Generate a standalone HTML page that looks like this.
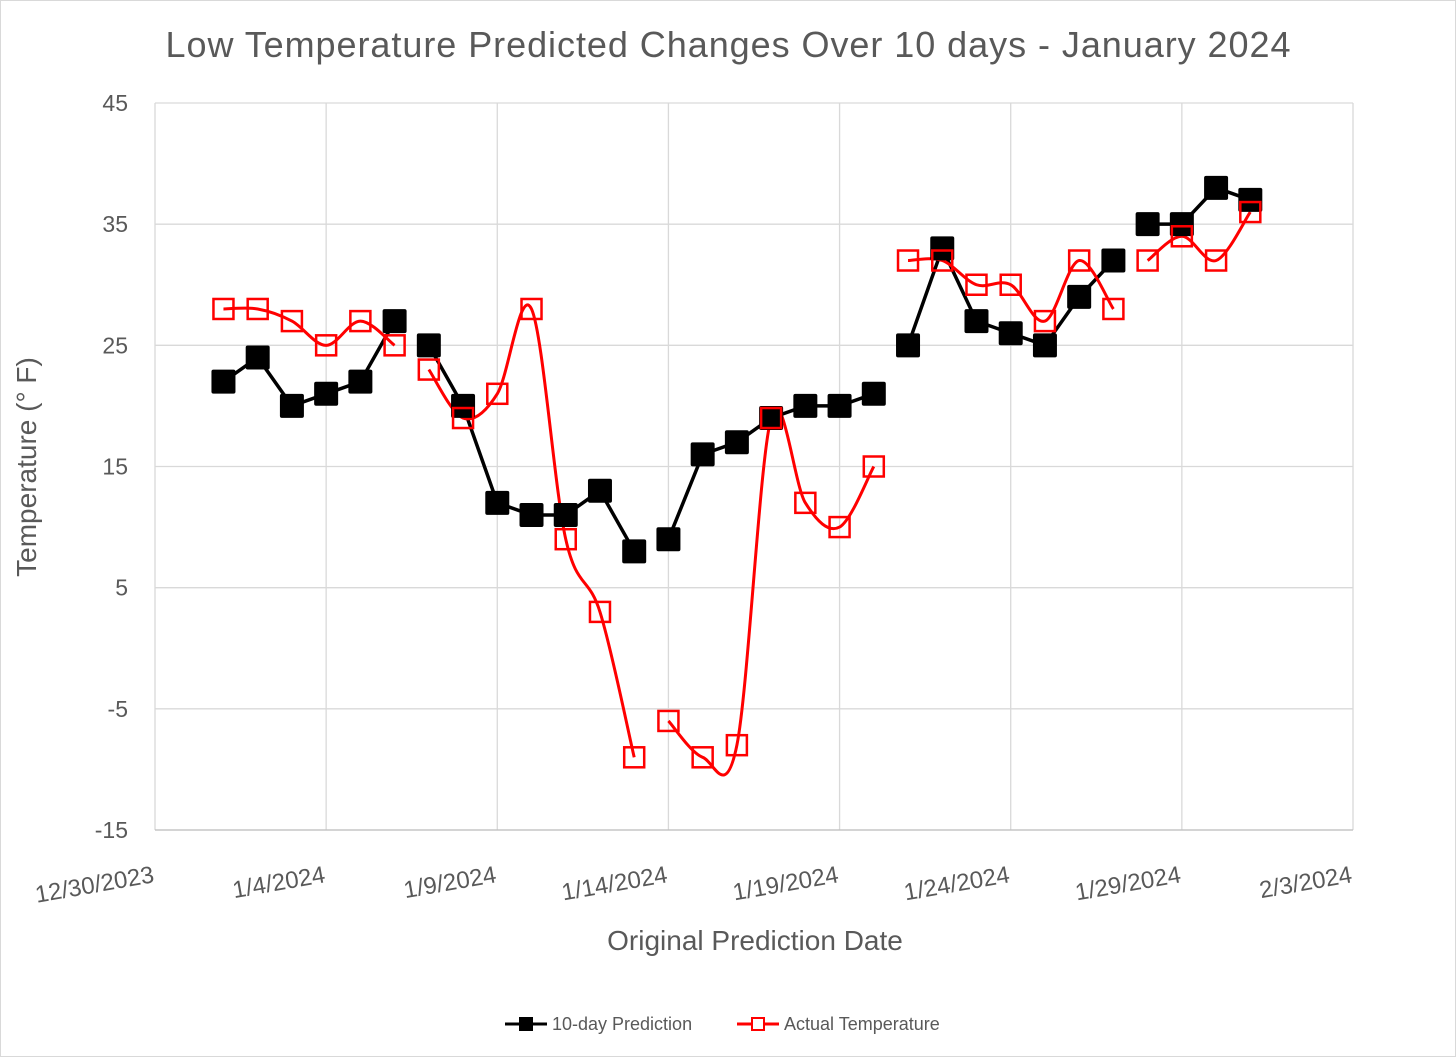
<!DOCTYPE html>
<html><head><meta charset="utf-8"><style>
body{margin:0;background:#fff}
svg text{font-family:"Liberation Sans",Carlito,sans-serif;fill:#595959}
</style></head><body>
<svg width="1456" height="1057" viewBox="0 0 1456 1057">
<rect x="0.5" y="0.5" width="1455" height="1056" fill="#fff" stroke="#d9d9d9"/>
<text x="728" y="57" font-size="36" text-anchor="middle" textLength="1125">Low Temperature Predicted Changes Over 10 days - January 2024</text>
<g id="grid"></g>
<g id="lines"></g>
<g id="marks"></g>
<text x="755" y="950" font-size="28" text-anchor="middle">Original Prediction Date</text>
<text transform="translate(36,467) rotate(-90)" font-size="28" text-anchor="middle">Temperature (° F)</text>
<g>
<g>
<line x1="505" y1="1024" x2="547" y2="1024" stroke="#000" stroke-width="3"/>
<rect x="519" y="1017" width="14" height="14" fill="#000"/>
<text x="552" y="1030" font-size="18">10-day Prediction</text></g>
<g>
<line x1="737" y1="1024" x2="779" y2="1024" stroke="#f00" stroke-width="3"/>
<rect x="752" y="1018" width="12" height="12" fill="#fff" stroke="#f00" stroke-width="2"/>
<text x="784" y="1030" font-size="18">Actual Temperature</text></g>
</g>
</svg>
<script>
const days = [];for(let d=1;d<=31;d++)days.push(d); // January day numbers
const prediction = [22,24,20,21,22,27,25,20,12,11,11,13,8,9,16,17,19,20,20,21,25,33,27,26,25,29,32,35,35,38,37];
const actual = [28,28,27,25,27,25,23,19,21,28,9,3,-9,-6,-9,-8,19,12,10,15,32,32,30,30,27,32,28,32,34,32,36];
const groupStarts = [1,7,14,21,28];
const yTicks = [-15,-5,5,15,25,35,45];
const xTickDays = [-1,4,9,14,19,24,29,34]; // January day numbers (0 = 12/31)
const xTickLabels = ["12/30/2023","1/4/2024","1/9/2024","1/14/2024","1/19/2024","1/24/2024","1/29/2024","2/3/2024"];
const X0=155,X1=1353,Y0=830,Y1=103;
const xs=d=>X0+(d+1)*(X1-X0)/35;
const ys=v=>Y0+(v+15)*(Y1-Y0)/60;
const NS="http://www.w3.org/2000/svg";
function mk(tag,attrs,parent){const e=document.createElementNS(NS,tag);for(const k in attrs)e.setAttribute(k,attrs[k]);parent.appendChild(e);return e;}
const grid=document.getElementById('grid'),lines=document.getElementById('lines'),marks=document.getElementById('marks');
yTicks.forEach(t=>{const l=mk('line',{x1:X0,x2:X1,y1:ys(t),y2:ys(t),stroke:'#d9d9d9','stroke-width':1.3},grid);


const tx=mk('text',{x:128,y:ys(t)+8,'font-size':23,'text-anchor':'end'},grid);tx.textContent=t;

});
xTickDays.forEach((d,i)=>{const l=mk('line',{x1:xs(d),x2:xs(d),y1:Y1,y2:Y0,stroke:'#d9d9d9','stroke-width':1.3},grid);


const tx=mk('text',{transform:`translate(${xs(d)},${Y0+52}) rotate(-10)`,'font-size':24,'text-anchor':'end'},grid);tx.textContent=xTickLabels[i];

});
function groups(){const g=[];for(let i=0;i<groupStarts.length;i++){const s=groupStarts[i],e=i+1<groupStarts.length?groupStarts[i+1]-1:days[days.length-1];g.push([s,e]);}return g;}
function smooth(pts){let d=`M${pts[0][0]},${pts[0][1]}`;for(let i=0;i<pts.length-1;i++){const p0=pts[i-1]||pts[i],p1=pts[i],p2=pts[i+1],p3=pts[i+2]||p2;const t=1/6;
d+=` C${p1[0]+(p2[0]-p0[0])*t},${p1[1]+(p2[1]-p0[1])*t} ${p2[0]-(p3[0]-p1[0])*t},${p2[1]-(p3[1]-p1[1])*t} ${p2[0]},${p2[1]}`;}return d;}
groups().forEach(([s,e])=>{const idx=[];days.forEach((d,i)=>{if(d>=s&&d<=e)idx.push(i)});
const pp=idx.map(i=>[xs(days[i]),ys(prediction[i])]);
const p=mk('polyline',{points:pp.map(q=>q.join(',')).join(' '),fill:'none',stroke:'#000','stroke-width':3.5},lines);


const ap=idx.map(i=>[xs(days[i]),ys(actual[i])]);
const a=mk('path',{d:smooth(ap),fill:'none',stroke:'#f00','stroke-width':3},lines);

});
days.forEach((d,i)=>{const r=mk('rect',{x:xs(d)-12,y:ys(prediction[i])-12,width:24,height:24,rx:2,fill:'#000'},marks);

});
days.forEach((d,i)=>{const r=mk('rect',{x:xs(d)-10,y:ys(actual[i])-10,width:20,height:20,fill:'none',stroke:'#f00','stroke-width':2.5},marks);

});
mk('line',{x1:X0,x2:X1,y1:Y0,y2:Y0,stroke:'#bfbfbf','stroke-width':1.3},grid);
</script>
</body></html>
